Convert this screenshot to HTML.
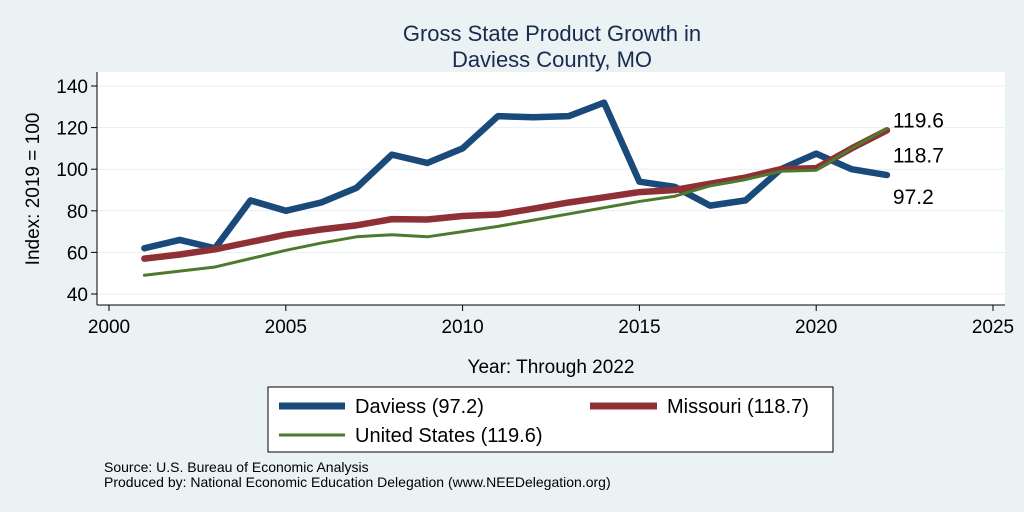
<!DOCTYPE html>
<html><head><meta charset="utf-8"><style>
body{margin:0;width:1024px;height:512px;background:#eaf2f3;font-family:"Liberation Sans",sans-serif;overflow:hidden}
</style></head><body>
<svg width="1024" height="512" style="position:absolute;left:0;top:0">
<rect x="97" y="72" width="908" height="233" fill="#fff"/>
<text x="552" y="41" text-anchor="middle" font-size="22" fill="#1a2a4f">Gross State Product Growth in</text>
<text x="552" y="67" text-anchor="middle" font-size="22" fill="#1a2a4f">Daviess County, MO</text>
<g id="grid"></g><g id="axes"></g><g id="series"></g><g id="labels"></g>
<text x="39" y="189" text-anchor="middle" font-size="19" transform="rotate(-90 39 189)">Index: 2019 = 100</text>
<text x="551" y="373" text-anchor="middle" font-size="19">Year: Through 2022</text>
<g>
<rect x="268" y="387" width="565" height="65" fill="#fff" stroke="#000" stroke-width="1"/>
<line x1="279" y1="406" x2="345" y2="406" stroke="#1a4a7a" stroke-width="7"/>
<text x="355" y="413" font-size="20">Daviess  (97.2)</text>
<line x1="590" y1="406" x2="657" y2="406" stroke="#8f3036" stroke-width="7"/>
<text x="667" y="413" font-size="20">Missouri (118.7)</text>
<line x1="279" y1="435" x2="345" y2="435" stroke="#4e7a2e" stroke-width="3"/>
<text x="355" y="442" font-size="20">United States (119.6)</text>
</g>
<text x="104" y="472" font-size="14">Source: U.S. Bureau of Economic Analysis</text>
<text x="104" y="487" font-size="14">Produced by: National Economic Education Delegation (www.NEEDelegation.org)</text>
</svg>
<script>
const years=[2001,2002,2003,2004,2005,2006,2007,2008,2009,2010,2011,2012,2013,2014,2015,2016,2017,2018,2019,2020,2021,2022];
const daviess=[62,66,62,85,80,84,91,107,103,110,125.5,125,125.5,132,94,91.5,82.5,85,100,107.5,100,97.2];
const missouri=[57,59,61.5,65,68.5,71,73,76,75.8,77.5,78.2,81,84,86.5,89,90,93,96,100,100.5,110,118.7];
const us=[49,51,53,57,61,64.5,67.5,68.5,67.5,70,72.5,75.5,78.5,81.5,84.5,87,92,95,99,99.5,110,119.6];
const xTicks=[2000,2005,2010,2015,2020,2025];
const yTicks=[40,60,80,100,120,140];
const X=v=>109+(v-2000)*(993-109)/25;
const Y=v=>294-(v-40)*(294-86)/100;
const NS='http://www.w3.org/2000/svg';
function mk(p,t,a){const e=document.createElementNS(NS,t);for(const k in a)e.setAttribute(k,a[k]);document.getElementById(p).appendChild(e);return e;}
yTicks.forEach(v=>{
 const g=mk('grid','line',{x1:97,x2:1005,y1:Y(v),y2:Y(v),stroke:'#e8eef0','stroke-width':1});
 
 
 const t=mk('axes','line',{x1:91,x2:97,y1:Y(v),y2:Y(v),stroke:'#000'});
 
 
 const l=mk('axes','text',{x:88,y:Y(v)+7,'text-anchor':'end','font-size':19});
 l.textContent=v;
 
 
});
xTicks.forEach(v=>{
 const t=mk('axes','line',{x1:X(v),x2:X(v),y1:305,y2:311,stroke:'#000'});
 
 
 const l=mk('axes','text',{x:X(v),y:333,'text-anchor':'middle','font-size':19});
 l.textContent=v;
 
 
});
const ya=mk('axes','line',{x1:97,x2:97,y1:72,y2:305,stroke:'#000'});


const xa=mk('axes','line',{x1:97,x2:1005,y1:305,y2:305,stroke:'#000'});


function line(d,c,w,n){
 const p=mk('series','polyline',{points:d.map((v,i)=>X(years[i])+','+Y(v)).join(' '),fill:'none',stroke:c,'stroke-width':w,'stroke-linejoin':'round','stroke-linecap':'round'});
 
 
}
line(daviess,'#1a4a7a',6.5,'line-daviess');
line(missouri,'#8f3036',6.5,'line-missouri');
line(us,'#4e7a2e',3,'line-us');
const last=years.length-1;
[[us[last],-1,'label-us'],[missouri[last],32,'label-missouri'],[daviess[last],29,'label-daviess']].forEach(([v,dy,n])=>{
 const t=mk('labels','text',{x:X(years[last])+6,y:Y(v)+dy,'font-size':21});
 t.textContent=v.toFixed(1);
 
 
});
</script>
</body></html>
